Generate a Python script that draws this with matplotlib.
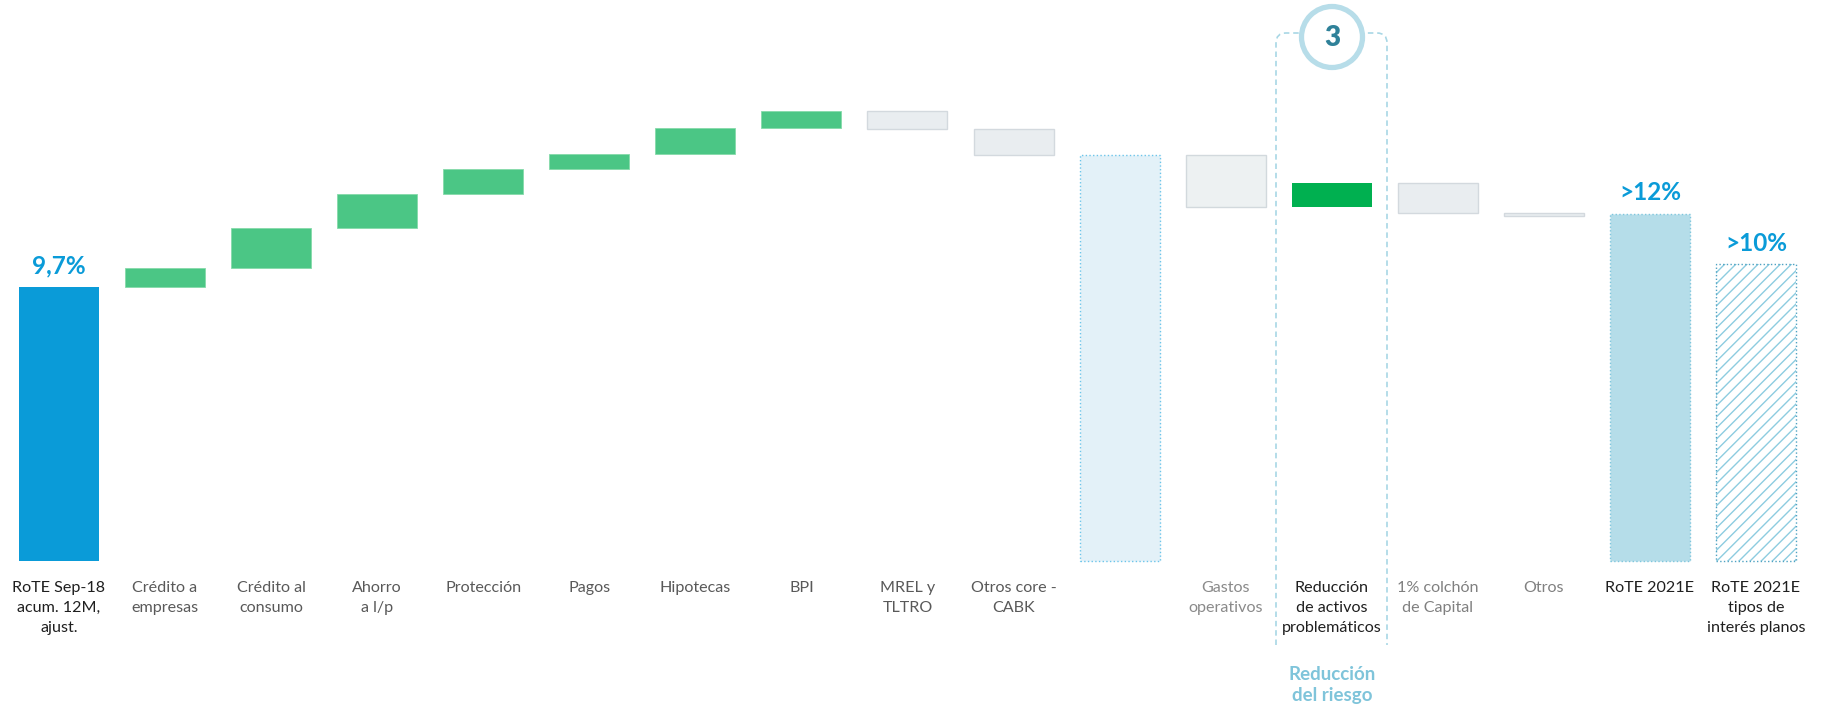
import numpy as np
import matplotlib
matplotlib.use("Agg")
import matplotlib.pyplot as plt
from matplotlib.path import Path
from matplotlib.patches import PathPatch, Circle

plt.rcParams['font.family'] = ['Lato', 'DejaVu Sans']
plt.rcParams['hatch.linewidth'] = 1.0

# ------------------------------------------------------------------
# data (RoTE bridge, in % points)
# ------------------------------------------------------------------
labels = ["RoTE Sep-18\nacum. 12M,\najust.", "Crédito a\nempresas", "Crédito al\nconsumo",
          "Ahorro\na l/p", "Protección", "Pagos", "Hipotecas", "BPI", "MREL y\nTLTRO",
          "Otros core -\nCABK", "", "Gastos\noperativos",
          "Reducción\nde activos\nproblemáticos", "1% colchón\nde Capital", "Otros",
          "RoTE 2021E", "RoTE 2021E\ntipos de\ninterés planos"]
label_colors = ["#1f1f1f"] + ["#595959"] * 9 + ["#595959", "#8a8a8a", "#1f1f1f",
                "#808080", "#808080", "#1f1f1f", "#1f1f1f"]

rote_sep18 = 9.7
core_deltas = [0.67, 1.42, 1.20, 0.89, 0.53, 0.92, 0.60, -0.64, -0.92]
risk_deltas = [-1.84, 0.85, -1.06, -0.10]
rote_2021 = 12.3
rote_2021_flat = 10.5
value_text = ["9,7%", ">12%", ">10%"]

# ------------------------------------------------------------------
# pixel based frame: 1830 x 711 figure
# ------------------------------------------------------------------
S = 106.06          # px per category slot
P = 28.247          # px per % point
x0_px, base_px = 59, 561
W, H = 1830, 711

fig = plt.figure(figsize=(W / 100, H / 100), dpi=100)
ax = fig.add_axes([0, 0, 1, 1])
ax.set_xlim(-x0_px / S, (W - x0_px) / S)
ax.set_ylim(-(H - base_px) / P, base_px / P)
ax.axis("off")
bw = 80 / S

blue = "#0A9BD8"
green = "#4BC685"
grey_fill, grey_edge = "#E9EDF0", "#D3D9DE"

# starting bar
ax.bar(0, rote_sep18, width=bw, color=blue, linewidth=0)

# core business steps
level = rote_sep18
for i, d in enumerate(core_deltas, start=1):
    if d >= 0:
        ax.bar(i, d, bottom=level, width=bw, color=green, edgecolor="#86DAAA", linewidth=0.6)
    else:
        ax.bar(i, d, bottom=level, width=bw, color=grey_fill, edgecolor=grey_edge, linewidth=1.0)
    level += d

# subtotal
ax.bar(10, level, width=bw, color="#E3F1F8", edgecolor="#6CC5EA", linewidth=1.0, linestyle=":")

# risk / capital steps
for j, d in enumerate(risk_deltas):
    i = 11 + j
    if i == 12:
        ax.bar(i, d, bottom=level, width=bw, color="#00B050", linewidth=0)
    elif i == 11:
        ax.bar(i, d, bottom=level, width=bw, color="#EDF1F2", edgecolor="#D2D9DD", linewidth=1.0)
    else:
        ax.bar(i, d, bottom=level, width=bw, color=grey_fill, edgecolor=grey_edge, linewidth=1.0)
    level += d

# final bars
ax.bar(15, rote_2021, width=bw, color="#B5DDE9", edgecolor="#7EC6DD", linewidth=1.0, linestyle=":")
ax.bar(16, rote_2021_flat, width=bw, color="white", edgecolor="#8DCCE0", hatch="///", linewidth=0)
ax.bar(16, rote_2021_flat, width=bw, fill=False, edgecolor="#4FA3C2", linewidth=1.0, linestyle=":")

# value labels
for x, v, t in [(0, rote_sep18, value_text[0]), (15, rote_2021, value_text[1]),
                (16, rote_2021_flat, value_text[2])]:
    ax.text(x, v + 0.75, t, ha="center", va="center", fontsize=17.5, fontweight="bold", color=blue)

# category labels
for i, (lab, c) in enumerate(zip(labels, label_colors)):
    ax.text(i, -20 / P, lab, ha="center", va="top", fontsize=11.6, color=c, linespacing=1.55)

# ------------------------------------------------------------------
# "3" bracket around risk reduction
# ------------------------------------------------------------------
ov = fig.add_axes([0, 0, 1, 1])
ov.set_xlim(0, W)
ov.set_ylim(H, 0)
ov.axis("off")
ov.patch.set_alpha(0)

L, R, T, B, r = 1276, 1387, 33, 645, 10
verts = [(L, B), (L, T + r), (L, T), (L + r, T), (R - r, T), (R, T), (R, T + r), (R, B)]
codes = [Path.MOVETO, Path.LINETO, Path.CURVE3, Path.CURVE3, Path.LINETO,
         Path.CURVE3, Path.CURVE3, Path.LINETO]
ov.add_patch(PathPatch(Path(verts, codes), fill=False, edgecolor="#A8D7E5", linewidth=1.2,
                       linestyle=(0, (3.3, 2.3))))
ov.add_patch(Circle((1332, 37), 30.5, facecolor="white", edgecolor="#B7DDE9", linewidth=3.8, zorder=5))
ov.text(1332, 38, "3", ha="center", va="center", fontsize=20, fontweight="heavy",
        color="#2F8199", zorder=6)
ov.text(1332, 685, "Reducción\ndel riesgo", ha="center", va="center", fontsize=13.5,
        fontweight="bold", color="#7FC4DA", linespacing=1.25)

fig.savefig("out.png", dpi=100)
